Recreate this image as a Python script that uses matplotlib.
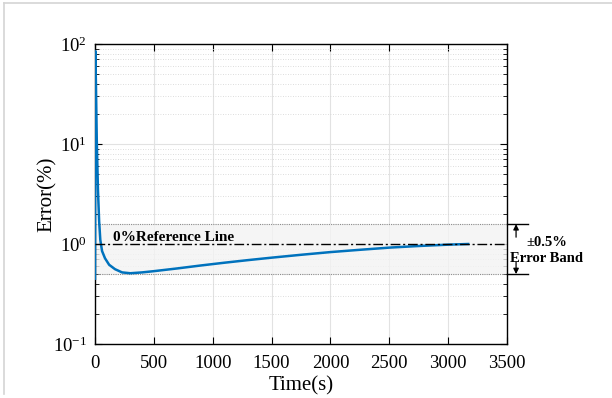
import numpy as np
import matplotlib.pyplot as plt
from matplotlib.lines import Line2D
from matplotlib.ticker import LogLocator, NullFormatter

plt.rcParams['font.family'] = ['Liberation Serif', 'DejaVu Serif']
plt.rcParams['mathtext.fontset'] = 'stix'

# error curve
time_s = [0, 2, 8, 15, 25, 35, 45, 60, 85, 120, 170, 230, 300, 400, 500,
          700, 900, 1100, 1300, 1500, 1750, 2000, 2250, 2500, 2750, 3000, 3170]
error_pct = [0.45, 85, 40, 11, 3.5, 1.7, 1.1, 0.85, 0.72, 0.62, 0.56, 0.52,
             0.51, 0.52, 0.535, 0.57, 0.61, 0.65, 0.69, 0.73, 0.78, 0.83,
             0.875, 0.92, 0.955, 0.985, 1.0]

ref_level = 1.0
band_low, band_high = 0.5, 1.58
x_ticks = [0, 500, 1000, 1500, 2000, 2500, 3000, 3500]

fig = plt.figure(figsize=(6.12, 3.98), dpi=100)
ax = fig.add_axes([95 / 612, 1 - 344 / 398, 412 / 612, 300 / 398])

ax.set_yscale('log')
ax.set_xlim(0, 3500)
ax.set_ylim(0.1, 100)
ax.set_xticks(x_ticks)
ax.yaxis.set_minor_locator(LogLocator(base=10, subs=np.arange(2, 10)))
ax.yaxis.set_minor_formatter(NullFormatter())

ax.grid(True, which='major', color='#e2e2e2', linewidth=0.8)
ax.grid(True, which='minor', axis='y', color='#d2d2d2', linestyle=(0, (1, 2)), linewidth=0.6)
ax.set_axisbelow(True)

# error band
ax.axhspan(band_low, band_high, facecolor='#f3f3f3', alpha=0.8, zorder=1)
ax.axhline(band_low, color='#8c8c8c', linestyle=(0, (1, 1)), linewidth=0.8, zorder=2)
ax.axhline(band_high, color='#8c8c8c', linestyle=(0, (1, 1)), linewidth=0.8, zorder=2)

ax.plot(time_s, error_pct, color='#0072BD', linewidth=1.8, zorder=3)
ax.axhline(ref_level, color='black', linestyle=(0, (7, 2, 1.5, 2)), linewidth=1.0, zorder=4)

ax.text(150, 1.16, '0%Reference Line', fontsize=11, fontweight='bold', va='center', ha='left')

# annotation outside right edge
tr = ax.get_yaxis_transform()
for lvl in (band_low, band_high):
    ax.plot([1.0, 1.05], [lvl, lvl], transform=tr, color='black', linewidth=1.0, clip_on=False)
ax.annotate('', xy=(1.022, band_high), xytext=(1.022, 1.17), xycoords=tr, textcoords=tr,
            arrowprops=dict(arrowstyle='-|>', color='black', lw=0.9, mutation_scale=8,
                            shrinkA=0, shrinkB=0))
ax.annotate('', xy=(1.022, band_low), xytext=(1.022, 0.66), xycoords=tr, textcoords=tr,
            arrowprops=dict(arrowstyle='-|>', color='black', lw=0.9, mutation_scale=8,
                            shrinkA=0, shrinkB=0))
ax.text(1.097, 1.03, '±0.5%', transform=tr, fontsize=10.5, fontweight='bold', ha='center', va='center')
ax.text(1.097, 0.71, 'Error Band', transform=tr, fontsize=10.5, fontweight='bold', ha='center', va='center')

ax.tick_params(which='both', direction='in', top=True, right=True, labelsize=13.5)
ax.tick_params(which='major', length=5)
ax.tick_params(which='minor', length=3)
ax.tick_params(axis='x', pad=8)
ax.tick_params(axis='y', pad=6)
for s in ax.spines.values():
    s.set_linewidth(1.0)

ax.set_xlabel('Time(s)', fontsize=15, labelpad=3)
ax.set_ylabel('Error(%)', fontsize=15)
ax.yaxis.set_label_coords(-0.092, 0.5)

# light frame at left and top of the figure
fig.add_artist(Line2D([4 / 612, 4 / 612], [0.01, 1 - 3 / 398], color='#d4d4d4', linewidth=1.2))
fig.add_artist(Line2D([4 / 612, 1.0], [1 - 3 / 398, 1 - 3 / 398], color='#d4d4d4', linewidth=1.2))

fig.savefig('out.png', dpi=100)
